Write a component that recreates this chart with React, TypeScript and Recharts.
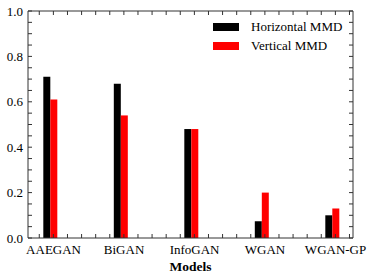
import { ComposedChart, Bar, Line, XAxis, YAxis, Legend, Label } from 'recharts';

const categories = ['AAEGAN', 'BiGAN', 'InfoGAN', 'WGAN', 'WGAN-GP'];
const horizontalMMD = [0.71, 0.68, 0.48, 0.074, 0.1];
const verticalMMD = [0.61, 0.54, 0.48, 0.2, 0.13];
const categoryPositions = [1, 2, 3, 4, 5];
const yMajorTicks = [0, 0.2, 0.4, 0.6, 0.8, 1.0];

// minor ticks: every 0.05 on y, every 0.2 on x (offset from the categories)
const yTicks = Array.from({ length: 21 }, (_, i) => Math.round(i * 5) / 100);
const xMinorTicks = Array.from({ length: 23 }, (_, i) => Math.round((0.84 + i * 0.2) * 100) / 100);

const data = categories.map((name, i) => ({
  pos: categoryPositions[i],
  name,
  horizontal: horizontalMMD[i],
  vertical: verticalMMD[i],
}));

const FONT = "'Liberation Serif', 'Times New Roman', Times, 'DejaVu Serif', serif";
const AXIS = '#333';
const TICK_LEN = 4;

const BottomTick = (props: any) => {
  const { x, y, payload } = props;
  const idx = categoryPositions.indexOf(payload.value);
  if (idx >= 0) {
    return (
      <text x={x + 3} y={y + 16} textAnchor="middle" style={{ fontFamily: FONT, fontSize: 13 }} fill="#000">
        {categories[idx]}
      </text>
    );
  }
  return <line x1={x} x2={x} y1={y} y2={y - TICK_LEN} stroke={AXIS} />;
};

const TopTick = (props: any) => {
  const { x, y } = props;
  return <line x1={x} x2={x} y1={y} y2={y + TICK_LEN} stroke={AXIS} />;
};

const LeftTick = (props: any) => {
  const { x, y, payload } = props;
  const isMajor = yMajorTicks.some(t => Math.abs(t - payload.value) < 1e-6);
  return (
    <g>
      <line x1={x} x2={x + TICK_LEN} y1={y} y2={y} stroke={AXIS} />
      {isMajor && (
        <text x={x - 5} y={y + 4.5} textAnchor="end" style={{ fontFamily: FONT, fontSize: 13 }} fill="#000">
          {payload.value.toFixed(1)}
        </text>
      )}
    </g>
  );
};

const RightTick = (props: any) => {
  const { x, y } = props;
  return <line x1={x} x2={x - TICK_LEN} y1={y} y2={y} stroke={AXIS} />;
};

const legendItems = [
  { label: 'Horizontal MMD', color: '#000000' },
  { label: 'Vertical MMD', color: '#ff0000' },
];

const LegendContent = () => (
  <div style={{ fontFamily: FONT, fontSize: 13, color: '#000' }}>
    {legendItems.map(item => (
      <div key={item.label} style={{ display: 'flex', alignItems: 'center', height: 19 }}>
        <div style={{ width: 26, height: 8, background: item.color, marginRight: 12 }} />
        <span>{item.label}</span>
      </div>
    ))}
  </div>
);

export default function App() {
  return (
    <div style={{ position: 'absolute', left: 0, top: 0, fontFamily: FONT }}>
      <ComposedChart
        width={373}
        height={280}
        data={data}
        barGap={0}
        margin={{ top: 0, right: 0, bottom: 0, left: 0 }}
        style={{ fontFamily: FONT }}
      >
        <XAxis
          xAxisId="bottom"
          dataKey="pos"
          type="number"
          domain={[0.68, 5.29]}
          ticks={[...categoryPositions, ...xMinorTicks]}
          interval={0}
          tickSize={0}
          tickMargin={0}
          tickLine={false}
          tick={BottomTick}
          axisLine={{ stroke: AXIS }}
          height={42}
          allowDataOverflow
        >
          <Label
            value="Models"
            position="insideBottom"
            offset={9}
            style={{ fontFamily: FONT, fontSize: 13.5, fontWeight: 'bold', fill: '#000' }}
          />
        </XAxis>
        <XAxis
          xAxisId="top"
          dataKey="pos"
          orientation="top"
          type="number"
          domain={[0.68, 5.29]}
          ticks={xMinorTicks}
          interval={0}
          tickSize={0}
          tickMargin={0}
          tickLine={false}
          tick={TopTick}
          axisLine={{ stroke: AXIS }}
          height={11}
          allowDataOverflow
        />
        <YAxis
          yAxisId="left"
          type="number"
          domain={[0, 1]}
          ticks={yTicks}
          interval={0}
          tickSize={0}
          tickMargin={0}
          tickLine={false}
          tick={LeftTick}
          axisLine={{ stroke: AXIS }}
          width={28}
        />
        <YAxis
          yAxisId="right"
          orientation="right"
          type="number"
          domain={[0, 1]}
          ticks={yTicks}
          interval={0}
          tickSize={0}
          tickMargin={0}
          tickLine={false}
          tick={RightTick}
          axisLine={{ stroke: AXIS }}
          width={20}
        />
        <Legend
          layout="horizontal"
          verticalAlign="middle"
          align="center"
          content={LegendContent}
          wrapperStyle={{ position: 'absolute', left: 213, top: 17, width: 'auto' }}
        />
        <Bar xAxisId="bottom" yAxisId="left" dataKey="horizontal" name="Horizontal MMD" fill="#000000" barSize={7} isAnimationActive={false} />
        <Bar xAxisId="bottom" yAxisId="left" dataKey="vertical" name="Vertical MMD" fill="#ff0000" barSize={7} isAnimationActive={false} />
        {/* invisible series so the top and right frame axes get drawn */}
        <Line
          xAxisId="top"
          yAxisId="right"
          dataKey="vertical"
          stroke="none"
          dot={false}
          activeDot={false}
          legendType="none"
          isAnimationActive={false}
        />
      </ComposedChart>
    </div>
  );
}
